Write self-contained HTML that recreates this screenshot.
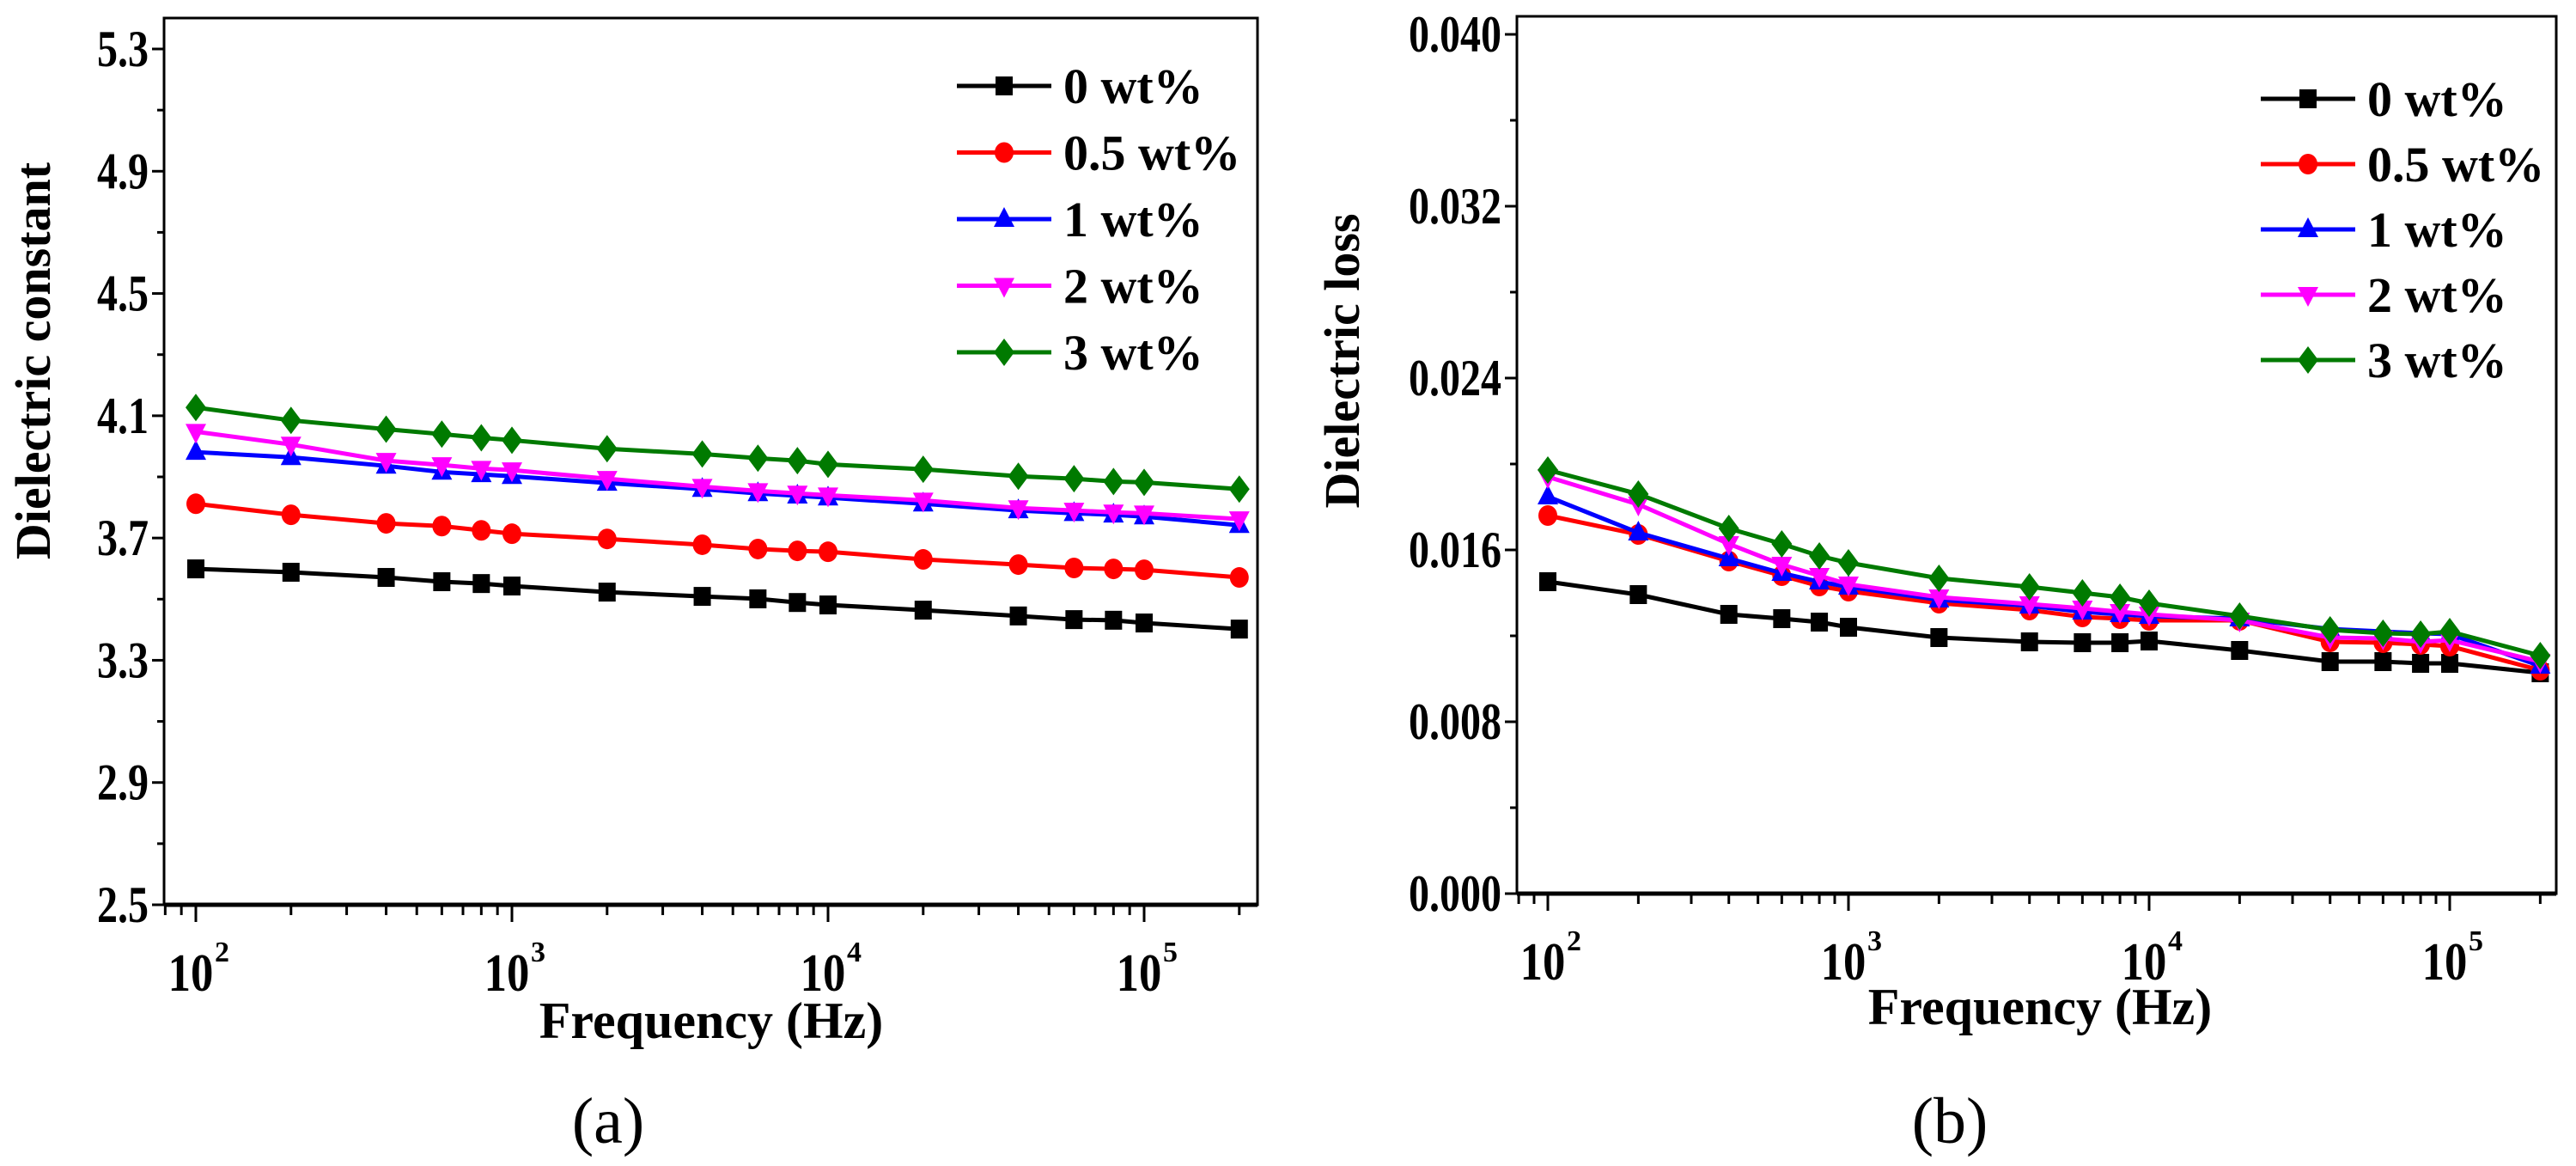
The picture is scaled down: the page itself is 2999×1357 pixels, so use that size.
<!DOCTYPE html>
<html><head><meta charset="utf-8"><style>
html,body{margin:0;padding:0;background:#fff;}
svg{display:block;font-family:"Liberation Serif",serif;}
</style></head><body>
<svg id="fig" width="2999" height="1357" viewBox="0 0 2999 1357" xmlns="http://www.w3.org/2000/svg"></svg>
<script>
const freqs=[100,200,400,600,800,1000,2000,4000,6000,8000,10000,20000,40000,60000,80000,100000,200000];
const seriesNames=["0 wt%","0.5 wt%","1 wt%","2 wt%","3 wt%"];
const seriesColors=["#000000","#ff0000","#0000ff","#ff00ff","#007a00"];
const seriesMarkers=["square","circle","up","down","diamond"];
const constA0=[3.599,3.588,3.571,3.557,3.551,3.543,3.523,3.509,3.501,3.489,3.481,3.464,3.445,3.433,3.431,3.422,3.402];
const constA05=[3.812,3.776,3.748,3.739,3.725,3.714,3.697,3.678,3.664,3.658,3.655,3.63,3.613,3.602,3.599,3.596,3.571];
const constA1=[3.981,3.964,3.936,3.916,3.908,3.902,3.88,3.86,3.846,3.838,3.832,3.812,3.79,3.781,3.776,3.77,3.742];
const constA2=[4.048,4.006,3.953,3.939,3.927,3.922,3.894,3.868,3.854,3.846,3.84,3.823,3.798,3.79,3.784,3.781,3.762];
const constA3=[4.127,4.085,4.056,4.04,4.028,4.02,3.992,3.975,3.961,3.953,3.941,3.925,3.902,3.894,3.885,3.882,3.86];
const lossB0=[.01452,.01392,.013,.0128,.01264,.0124,.01192,.01172,.01168,.01168,.01176,.01132,.0108,.0108,.01072,.01072,.01028];
const lossB05=[.0176,.01672,.01548,.0148,.01432,.01408,.01352,.0132,.01288,.0128,.01272,.01272,.01172,.01168,.0116,.01152,.0104];
const lossB1=[.01848,.0168,.0156,.01492,.01452,.01428,.01368,.0134,.01312,.013,.01292,.0128,.01232,.0122,.01212,.01208,.0106];
const lossB2=[.0194,.01812,.01628,.01532,.0148,.0144,.0138,.01348,.01328,.01312,.013,.01272,.01192,.01188,.01172,.0118,.0108];
const lossB3=[.01972,.0186,.017,.01628,.01572,.0154,.01468,.01428,.014,.0138,.01352,.01292,.01228,.01212,.01208,.0122,.01108];
const yTicksA=["2.5","2.9","3.3","3.7","4.1","4.5","4.9","5.3"];
const yTicksB=["0.000","0.008","0.016","0.024","0.032","0.040"];
const xTickExp=[2,3,4,5];

const NS="http://www.w3.org/2000/svg";
const svg=document.getElementById('fig');
function mk(tag,attrs,parent){const e=document.createElementNS(NS,tag);for(const k in attrs)e.setAttribute(k,attrs[k]);(parent||svg).appendChild(e);return e;}

function marker(g,type,x,y,color){
  let e;
  if(type==="square") e=mk('rect',{x:x-10,y:y-11,width:20,height:22,fill:color},g);
  else if(type==="circle") e=mk('ellipse',{cx:x,cy:y,rx:11,ry:12,fill:color},g);
  else if(type==="up") e=mk('polygon',{points:`${x},${y-14} ${x+12},${y+9} ${x-12},${y+9}`,fill:color},g);
  else if(type==="down") e=mk('polygon',{points:`${x},${y+14} ${x+12},${y-9} ${x-12},${y-9}`,fill:color},g);
  else e=mk('polygon',{points:`${x},${y-16} ${x+12},${y} ${x},${y+16} ${x-12},${y}`,fill:color},g);
  return e;
}

function panel(cfg){
  const p=mk('g',{});
  
  
  const xs=f=>cfg.x100+(Math.log10(f)-2)*cfg.dec;
  const ys=v=>cfg.yBot-(v-cfg.ymin)/(cfg.ymax-cfg.ymin)*(cfg.yBot-cfg.yTopTick);
  const fr=mk('rect',{x:cfg.L,y:cfg.T,width:cfg.R-cfg.L,height:cfg.yBot-cfg.T,fill:'none',stroke:'#000','stroke-width':3},p);
  
  
  mk('line',{x1:cfg.L,y1:cfg.yBot,x2:cfg.R,y2:cfg.yBot,stroke:'#000','stroke-width':5},p);
  const n=cfg.yLabels.length;
  for(let i=0;i<n;i++){
    const v=cfg.ymin+i*(cfg.ymax-cfg.ymin)/(n-1);
    const y=ys(v);
    mk('line',{x1:cfg.L-14,y1:y,x2:cfg.L,y2:y,stroke:'#000','stroke-width':3},p);
    const tx=cfg.L-18;
    const t=mk('text',{x:tx,y:y+20,'text-anchor':'end','font-size':60,'font-weight':'bold',transform:`translate(${tx},0) scale(0.8,1) translate(${-tx},0)`},p);
    t.textContent=cfg.yLabels[i];
    
    
    if(i<n-1){const ym=ys(v+(cfg.ymax-cfg.ymin)/(n-1)/2);mk('line',{x1:cfg.L-8,y1:ym,x2:cfg.L,y2:ym,stroke:'#000','stroke-width':3},p);}
  }
  for(let d=2;d<=5;d++){for(let m=1;m<=9;m++){const f=m*Math.pow(10,d);const x=xs(f);if(x>cfg.R)continue;
    mk('line',{x1:x,y1:cfg.yBot,x2:x,y2:cfg.yBot+(m===1?20:12),stroke:'#000','stroke-width':3},p);}}
  {const x=xs(90);mk('line',{x1:x,y1:cfg.yBot,x2:x,y2:cfg.yBot+12,stroke:'#000','stroke-width':3},p);const x2=xs(80);mk('line',{x1:x2,y1:cfg.yBot,x2:x2,y2:cfg.yBot+12,stroke:'#000','stroke-width':3},p);}
  xTickExp.forEach(e=>{
    const x=xs(Math.pow(10,e));
    const tx=x-6;
    const t=mk('text',{x:tx,y:cfg.yBot+100,'text-anchor':'middle','font-size':62,'font-weight':'bold',transform:`translate(${tx},0) scale(0.85,1) translate(${-tx},0)`},p);
    t.textContent='10';
    
    
    const s=mk('text',{x:x+22,y:cfg.yBot+66,'font-size':34,'font-weight':'bold'},p);
    s.textContent=String(e);
  });
  const xt=mk('text',{x:cfg.xTitleX,y:cfg.xTitleY,'text-anchor':'middle','font-size':60,'font-weight':'bold'},p);
  xt.textContent='Frequency (Hz)';
  
  
  const yt=mk('text',{x:0,y:0,'text-anchor':'middle','font-size':58,'font-weight':'bold',transform:`translate(${cfg.yTitleX},${cfg.yTitleY}) rotate(-90)`},p);
  yt.textContent=cfg.yTitle;
  
  
  const cap=mk('text',{x:cfg.capX,y:1330,'text-anchor':'middle','font-size':76},p);
  cap.textContent=cfg.caption;
  
  
  cfg.data.forEach((arr,si)=>{
    const g=mk('g',{},p);
    
    
    const pts=arr.map((v,i)=>xs(freqs[i])+','+ys(v)).join(' ');
    mk('polyline',{points:pts,fill:'none',stroke:seriesColors[si],'stroke-width':5},g);
    arr.forEach((v,i)=>{const m=marker(g,seriesMarkers[si],xs(freqs[i]),ys(v),seriesColors[si]);
      
      });
  });
  const lg=mk('g',{},p);
  
  
  seriesNames.forEach((nm,si)=>{
    const y=cfg.legY+si*cfg.legDy;
    const e=mk('g',{},lg);
    
    
    mk('line',{x1:cfg.legX,y1:y,x2:cfg.legX+110,y2:y,stroke:seriesColors[si],'stroke-width':5},e);
    marker(e,seriesMarkers[si],cfg.legX+55,y,seriesColors[si]);
    const t=mk('text',{x:cfg.legX+124,y:y+20,'font-size':58,'font-weight':'bold'},e);
    t.textContent=nm;
  });
}

panel({name:'panel-a-dielectric-constant',L:191,R:1464,T:21,yBot:1053,yTopTick:57,ymin:2.5,ymax:5.3,x100:228,dec:368,
  yLabels:yTicksA,data:[constA0,constA05,constA1,constA2,constA3],xTitleX:828,xTitleY:1208,yTitleX:58,yTitleY:420,yTitle:'Dielectric constant',capX:708,caption:'(a)',legX:1114,legY:100,legDy:77.5});
panel({name:'panel-b-dielectric-loss',L:1766,R:2976,T:19,yBot:1040,yTopTick:40,ymin:0,ymax:0.04,x100:1802,dec:350,
  yLabels:yTicksB,data:[lossB0,lossB05,lossB1,lossB2,lossB3],xTitleX:2375,xTitleY:1192,yTitleX:1582,yTitleY:420,yTitle:'Dielectric loss',capX:2270,caption:'(b)',legX:2632,legY:115,legDy:76});
</script>
</body></html>
